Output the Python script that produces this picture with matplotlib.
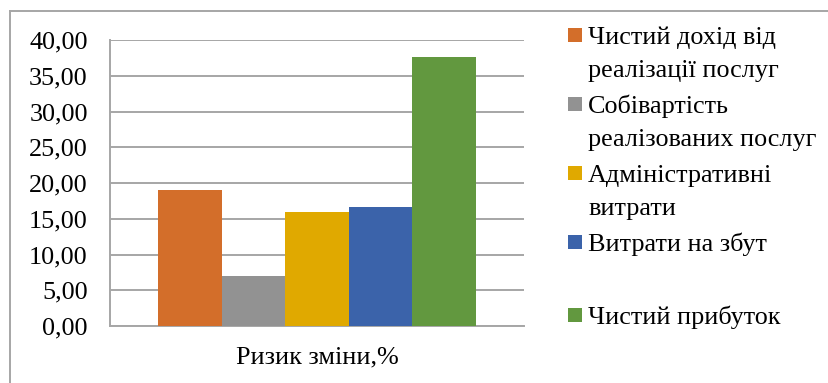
import matplotlib
matplotlib.use("Agg")
import matplotlib.pyplot as plt
from matplotlib import font_manager as fm
from matplotlib.patches import Rectangle
from matplotlib.lines import Line2D
from matplotlib.ticker import FuncFormatter

categories = ["Ризик зміни,%"]
series_names = [
    "Чистий дохід від\nреалізації послуг",
    "Собівартість\nреалізованих послуг",
    "Адміністративні\nвитрати",
    "Витрати на збут",
    "Чистий прибуток",
]
values = [19.0, 7.0, 15.9, 16.6, 37.6]
colors = ["#D36E2A", "#929292", "#E0A900", "#3B63AA", "#62983F"]
y_ticks = [0, 5, 10, 15, 20, 25, 30, 35, 40]

plt.rcParams['font.family'] = 'serif'
plt.rcParams['font.serif'] = ['Liberation Serif', 'DejaVu Serif']
FS = 18.8
serif_path = fm.findfont(fm.FontProperties(family='Liberation Serif'))
fp = fm.FontProperties(fname=serif_path, size=FS)

W, H = 829, 383
fig = plt.figure(figsize=(W / 100, H / 100), dpi=100)

def fx(px):
    return px / W

def fy(py):
    return 1 - py / H

# plot area: x 110..524, y 40..326 (pixels)
ax = fig.add_axes([fx(110), fy(326), fx(524) - fx(110), fy(40) - fy(326)])

n = len(values)
group = 318 / 414
bw = group / n
for i, (v, c) in enumerate(zip(values, colors)):
    x = -group / 2 + bw * (i + 0.5)
    ax.bar(x, v, width=bw, color=c, zorder=3, linewidth=0)

ax.set_xlim(-0.5, 0.5)
ax.set_ylim(0, 40)
ax.set_yticks(y_ticks)
ax.yaxis.set_major_formatter(FuncFormatter(lambda v, p: f"{v:.2f}".replace(".", ",")))
ax.set_xticks([0])
ax.set_xticklabels(categories)
ax.tick_params(axis='y', length=0, pad=16, colors='black')
ax.tick_params(axis='x', length=0, pad=15, colors='black')
for lab in ax.get_yticklabels() + ax.get_xticklabels():
    lab.set_fontproperties(fp)
ax.grid(axis='y', color='#A6A6A6', linewidth=1.4, zorder=0)
for s in ['top', 'right']:
    ax.spines[s].set_visible(False)
for s in ['left', 'bottom']:
    ax.spines[s].set_color('#A6A6A6')
    ax.spines[s].set_linewidth(1.4)

# outer chart border (left and top visible)
fig.add_artist(Line2D([fx(10), fx(10)], [fy(10.5), 0], color='#A6A6A6', linewidth=1.4, transform=fig.transFigure))
fig.add_artist(Line2D([fx(10), 1], [fy(10.5), fy(10.5)], color='#A6A6A6', linewidth=1.4, transform=fig.transFigure))

# legend: first-line baselines (pixels), line pitch 33 px
baselines = [44, 113, 182, 251, 324]
pitch = 33
for name, c, bl in zip(series_names, colors, baselines):
    fig.add_artist(Rectangle((fx(568), fy(bl - 2.5)), fx(14), fy(0) - fy(14),
                             facecolor=c, edgecolor='none', transform=fig.transFigure))
    for k, line in enumerate(name.split("\n")):
        fig.text(fx(588), fy(bl + k * pitch), line, fontproperties=fp,
                 va='baseline', ha='left')

fig.savefig("out.png", dpi=100, facecolor='white')
